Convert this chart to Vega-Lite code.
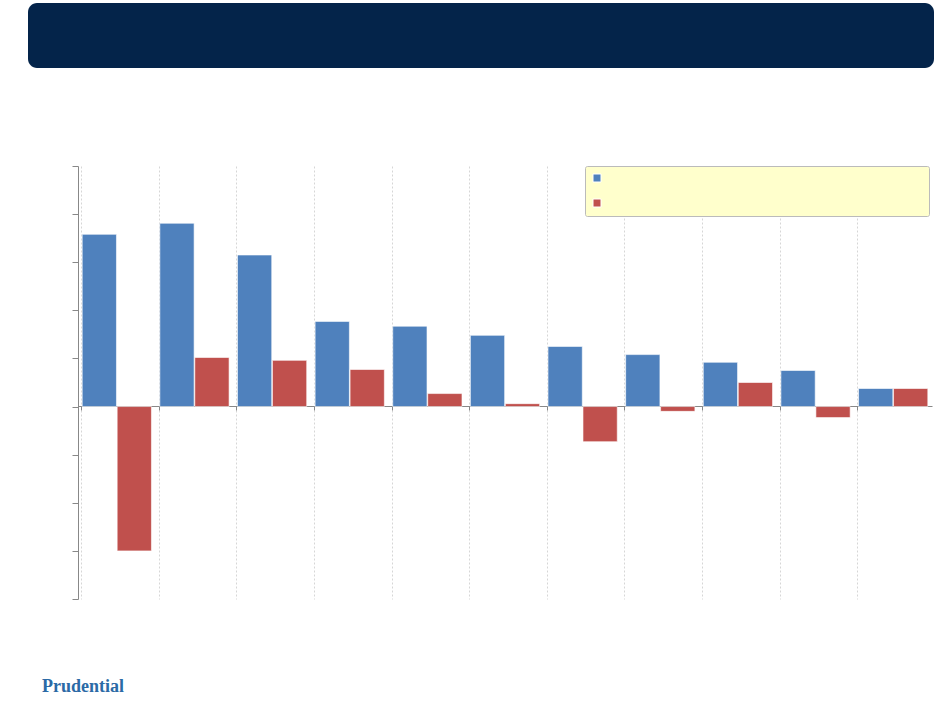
{
  "$schema": "https://vega.github.io/schema/vega-lite/v6.json",
  "background": "white",
  "padding": {"left": 28, "top": 3, "right": 12, "bottom": 4},
  "spacing": 97,
  "title": {
    "text": "Prudential",
    "orient": "bottom",
    "anchor": "start",
    "font": "Liberation Serif",
    "fontWeight": "bold",
    "fontSize": 18,
    "color": "#2b6aa6",
    "offset": 78,
    "dx": 14
  },
  "datasets": {
    "bars": [
      {"group": "1", "series": "A", "value": 3.58},
      {"group": "1", "series": "B", "value": -3.0},
      {"group": "2", "series": "A", "value": 3.81},
      {"group": "2", "series": "B", "value": 1.02},
      {"group": "3", "series": "A", "value": 3.15},
      {"group": "3", "series": "B", "value": 0.96},
      {"group": "4", "series": "A", "value": 1.77},
      {"group": "4", "series": "B", "value": 0.77},
      {"group": "5", "series": "A", "value": 1.67},
      {"group": "5", "series": "B", "value": 0.27},
      {"group": "6", "series": "A", "value": 1.48},
      {"group": "6", "series": "B", "value": 0.06},
      {"group": "7", "series": "A", "value": 1.25},
      {"group": "7", "series": "B", "value": -0.73},
      {"group": "8", "series": "A", "value": 1.08},
      {"group": "8", "series": "B", "value": -0.1},
      {"group": "9", "series": "A", "value": 0.92},
      {"group": "9", "series": "B", "value": 0.5},
      {"group": "10", "series": "A", "value": 0.75},
      {"group": "10", "series": "B", "value": -0.23},
      {"group": "11", "series": "A", "value": 0.375},
      {"group": "11", "series": "B", "value": 0.375}
    ]
  },
  "vconcat": [
    {
      "width": 906,
      "height": 65,
      "view": {"fill": "#04244a", "cornerRadius": 9, "stroke": null},
      "data": {"values": [{"t": ""}]},
      "mark": {"type": "text"},
      "encoding": {"text": {"field": "t"}}
    },
    {
      "spacing": 0,
      "hconcat": [
        {
          "width": 1,
          "height": 433,
          "view": {"stroke": null},
          "data": {"values": [{"t": ""}]},
          "mark": {"type": "text"},
          "encoding": {"text": {"field": "t"}}
        },
        {
          "width": 854,
          "height": 433,
          "view": {"stroke": null},
          "data": {"name": "bars"},
          "mark": {"type": "bar", "stroke": "white", "strokeWidth": 0.6},
          "encoding": {
            "x": {
              "field": "group",
              "type": "ordinal",
              "sort": null,
              "title": null,
              "scale": {"paddingInner": 0.09, "paddingOuter": 0.045},
              "axis": {
                "offset": -193,
                "labels": false,
                "domainColor": "#888888",
                "tickColor": "#888888",
                "tickSize": 4,
                "bandPosition": 0,
                "grid": true,
                "gridColor": "#d6d6d6",
                "gridDash": [2, 2]
              }
            },
            "xOffset": {"field": "series", "type": "nominal", "scale": {"padding": 0.02}},
            "y": {
              "field": "value",
              "type": "quantitative",
              "title": null,
              "scale": {"domain": [-4, 5], "nice": false},
              "axis": {
                "values": [-4, -3, -2, -1, 0, 1, 2, 3, 4, 5],
                "labels": false,
                "grid": false,
                "minExtent": 49,
                "domainColor": "#888888",
                "tickColor": "#888888",
                "tickSize": 6
              }
            },
            "color": {
              "field": "series",
              "type": "nominal",
              "scale": {"domain": ["A", "B"], "range": ["#4f81bd", "#c0504d"]},
              "legend": {
                "title": null,
                "orient": "none",
                "legendX": 557,
                "legendY": 163,
                "labelExpr": "' '",
                "labelOffset": 320,
                "symbolType": "square",
                "symbolSize": 64,
                "symbolStrokeColor": "white",
                "symbolStrokeWidth": 1,
                "rowPadding": 13,
                "padding": 7,
                "fillColor": "#ffffcc",
                "strokeColor": "#bbbbbb",
                "cornerRadius": 2
              }
            }
          }
        }
      ]
    }
  ]
}
